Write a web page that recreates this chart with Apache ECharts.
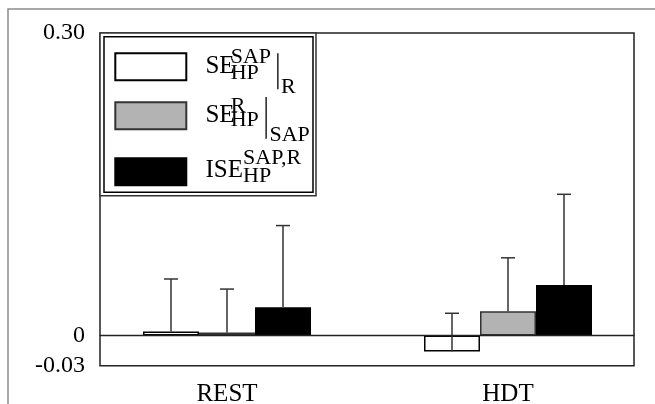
<!DOCTYPE html>
<html><head><meta charset="utf-8">
<script src="https://cdn.jsdelivr.net/npm/echarts@6/dist/echarts.min.js"></script>
<style>html,body{margin:0;padding:0;background:#fff}#c{width:655px;height:404px}</style>
</head><body><div id="c"></div>
<script>
// ---------- data ----------
const categories = ['REST', 'HDT'];
const seriesNames = ['SE_HP^SAP|R', 'SE_HP^R|SAP', 'ISE_HP^SAP,R'];
const valWhite = [0.004, -0.016];
const valGray = [0.003, 0.024];
const valBlack = [0.028, 0.050];
const errWhite = [0.052, 0.038];
const errGray = [0.043, 0.053];
const errBlack = [0.081, 0.090];
const yMin = -0.03, yMax = 0.30, yStep = 0.03;
const yTickValues = [-0.03, 0, 0.30];
const yTickLabels = ['-0.03', '0', '0.30'];
// legend label parts
const legendMain = ['SE', 'SE', 'ISE'];
const legendSup = ['SAP', 'R', 'SAP,R'];
const legendSub = ['HP', 'HP', 'HP'];
const legendCond = ['R', 'SAP', ''];

// ---------- style ----------
const FONT = 'Liberation Serif';
const MAIN_FS = 25, SCRIPT_FS = 22;
const BAR_W = 56, CAP_W = 14;
// R: half-height of each legend item box (controls item spacing)
const legendLayout = [
  {R: 34, barTop: -13.4, barBot: 22.6, mainW: 25.3, subW: 46.4, dMain: 0, dSup: -9, dSub: 6.3, dCond: 21},
  {R: 37, barTop: -18.6, barBot: 23, mainW: 25.3, subW: 34.7, dMain: 0, dSup: -9.8, dSub: 5, dCond: 20},
  {R: 41, barTop: null, mainW: 37.7, dMain: -1, dSup: -13, dSub: 5}
];

const rich = {};
function txt(fs, top, extra) {
  return Object.assign({fontSize: fs, fontFamily: FONT, color: '#000', height: 1, lineHeight: 0,
    verticalAlign: 'top', padding: [top, 0, 0, 0]}, extra || {});
}
const legendStrings = legendLayout.map((L, i) => {
  const hasBar = L.barTop != null;
  const a = hasBar ? L.barTop + L.R : L.R;
  const b = 2 * L.R - a;
  const l1 = -L.R, l2 = -L.R + a;
  rich['q' + i] = {width: 0.1, height: 2 * L.R, lineHeight: 0, verticalAlign: 'top', backgroundColor: 'rgba(255,255,255,0)'};
  rich['p1' + i] = {width: 14, height: 1, lineHeight: a};
  rich['m' + i] = txt(MAIN_FS, L.dMain - l1 - 0.5, {width: L.mainW});
  rich['s' + i] = txt(SCRIPT_FS, L.dSup - l1 - 0.5);
  rich['p2' + i] = {width: 14.1 + L.mainW, height: 1, lineHeight: b};
  rich['b' + i] = txt(SCRIPT_FS, L.dSub - l2 - 0.5, hasBar ? {width: L.subW} : {});
  let s = '{q' + i + '|}{p1' + i + '|}{m' + i + '|' + legendMain[i] + '}{s' + i + '|' + legendSup[i] + '}\n' +
          '{p2' + i + '|}{b' + i + '|' + legendSub[i] + '}';
  if (hasBar) {
    rich['v' + i] = {width: 1.5, height: L.barBot - L.barTop, lineHeight: 0, verticalAlign: 'top', backgroundColor: '#222'};
    rich['g' + i] = {width: 2.5, height: 1, lineHeight: 0};
    rich['c' + i] = txt(SCRIPT_FS, L.dCond - l2 - 0.5);
    s += '{v' + i + '|}{g' + i + '|}{c' + i + '|' + legendCond[i] + '}';
  }
  return s;
});

function errRender(offsetIdx) {
  return function (params, api) {
    const base = api.coord([api.value(0), api.value(1)]);
    const top = api.coord([api.value(0), api.value(2)]);
    const x = base[0] + offsetIdx * BAR_W;
    const st = {stroke: '#333', lineWidth: 1.5};
    return {type: 'group', children: [
      {type: 'line', shape: {x1: x, y1: base[1], x2: x, y2: top[1]}, style: st},
      {type: 'line', shape: {x1: x - CAP_W / 2, y1: top[1], x2: x + CAP_W / 2, y2: top[1]}, style: st}
    ]};
  };
}
function errData(vals, errs) {
  return categories.map((c, i) => [i, vals[i], vals[i] + errs[i]]);
}

const chart = echarts.init(document.getElementById('c'), null, {renderer: 'canvas'});
chart.setOption({
  animation: false,
  backgroundColor: '#fff',
  graphic: [
    {type: 'rect', silent: true, z: -1, shape: {x: 8, y: 9, width: 700, height: 450},
     style: {fill: 'none', stroke: '#8c8c8c', lineWidth: 1.5}},
    {type: 'rect', silent: true, z: 3, shape: {x: 100, y: 33, width: 216, height: 162.7},
     style: {fill: '#fff', stroke: '#333', lineWidth: 1.5}},
    {type: 'rect', silent: true, z: 3, shape: {x: 104, y: 36.8, width: 209, height: 155.5},
     style: {fill: '#fff', stroke: '#000', lineWidth: 1.5}}
  ],
  grid: [
    {left: 100, right: 21, top: 33, bottom: 38.3, show: true, borderColor: '#222', borderWidth: 1.5,
     backgroundColor: 'transparent', containLabel: false, outerBoundsMode: 'none'},
    {left: 86.5, right: 6.5, top: 33, bottom: 38.3, containLabel: false, outerBoundsMode: 'none'}
  ],
  legend: {
    data: seriesNames, orient: 'vertical', left: 114.3, top: 32.7,
    itemWidth: 71, itemHeight: 27, itemGap: -22, icon: 'rect',
    padding: 0, selectedMode: false,
    formatter: name => legendStrings[seriesNames.indexOf(name)],
    textStyle: {fontFamily: FONT, color: '#000', rich: rich}
  },
  xAxis: [
    {gridIndex: 0, type: 'category', data: categories, z: 10,
     axisLine: {show: true, onZero: true, lineStyle: {color: '#222', width: 1.3}},
     axisTick: {show: false}, axisLabel: {show: false}},
    {gridIndex: 1, type: 'category', data: categories,
     axisLine: {show: false}, axisTick: {show: false},
     axisLabel: {fontFamily: FONT, fontSize: 25, color: '#000', margin: 16}}
  ],
  yAxis: [
    {gridIndex: 0, type: 'value', min: yMin, max: yMax, interval: yStep,
     axisLine: {show: false}, axisTick: {show: false}, splitLine: {show: false},
     axisLabel: {fontFamily: FONT, fontSize: 24, color: '#000', margin: 15,
       formatter: v => { const k = yTickValues.findIndex(t => Math.abs(t - v) < 1e-9); return k >= 0 ? yTickLabels[k] : ''; }}},
    {gridIndex: 1, type: 'value', min: yMin, max: yMax, show: false}
  ],
  series: [
    {name: seriesNames[0], type: 'bar', xAxisIndex: 1, yAxisIndex: 1, data: valWhite, barWidth: BAR_W, barGap: '0%',
     itemStyle: {color: '#fff', borderColor: '#000', borderWidth: 1.5}},
    {name: seriesNames[1], type: 'bar', xAxisIndex: 1, yAxisIndex: 1, data: valGray, barWidth: BAR_W, barGap: '0%',
     itemStyle: {color: '#b3b3b3', borderColor: '#333', borderWidth: 1.5}},
    {name: seriesNames[2], type: 'bar', xAxisIndex: 1, yAxisIndex: 1, data: valBlack, barWidth: BAR_W, barGap: '0%',
     itemStyle: {color: '#000', borderColor: '#000', borderWidth: 1.5}},
    {name: 'errWhite', type: 'custom', xAxisIndex: 1, yAxisIndex: 1, z: 5, silent: true,
     data: errData(valWhite, errWhite), encode: {x: 0, y: [1, 2]}, renderItem: errRender(-1)},
    {name: 'errGray', type: 'custom', xAxisIndex: 1, yAxisIndex: 1, z: 5, silent: true,
     data: errData(valGray, errGray), encode: {x: 0, y: [1, 2]}, renderItem: errRender(0)},
    {name: 'errBlack', type: 'custom', xAxisIndex: 1, yAxisIndex: 1, z: 5, silent: true,
     data: errData(valBlack, errBlack), encode: {x: 0, y: [1, 2]}, renderItem: errRender(1)}
  ]
});
</script></body></html>
